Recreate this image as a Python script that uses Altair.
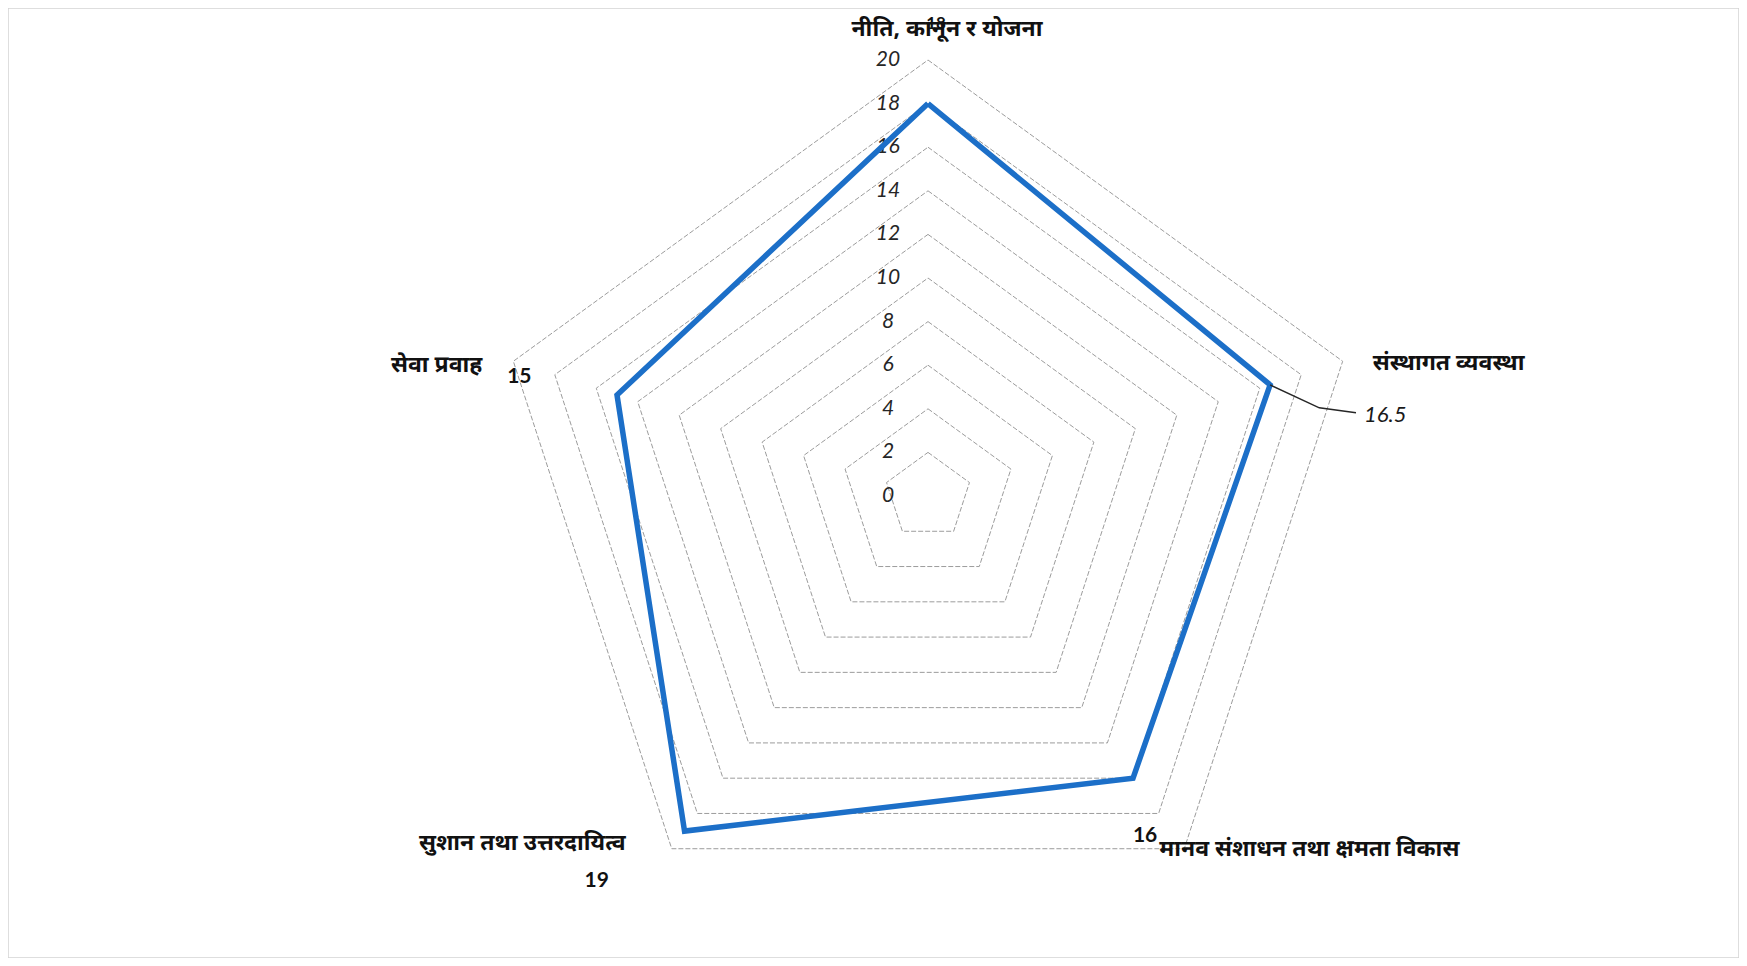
import math
import altair as alt
import pandas as pd

# ---------------- data ----------------
categories = [
    "नीति, कानून र योजना",
    "संस्थागत व्यवस्था",
    "मानव संशाधन तथा क्षमता विकास",
    "सुशान तथा उत्तरदायित्व",
    "सेवा प्रवाह",
]
values = [18, 16.5, 16, 19, 15]
value_labels = ["18", "16.5", "16", "19", "15"]
ticks = [0, 2, 4, 6, 8, 10, 12, 14, 16, 18, 20]
tick_labels = [str(t) for t in ticks]

# ---------------- layout ----------------
N = len(categories)
W, H = 1731, 950          # plot area (whole chart)
CX, CY = 928, 496         # page position of the centre
K = 21.8                  # pixels per unit
RMAX = max(ticks)
xdom = [(8 - CX) / K, (8 + W - CX) / K]
ydom = [(CY - 8 - H) / K, (CY - 8) / K]

X = alt.X("x:Q", scale=alt.Scale(domain=xdom, nice=False, zero=False), axis=None)
Y = alt.Y("y:Q", scale=alt.Scale(domain=ydom, nice=False, zero=False), axis=None)

polar = dict(ang=f"(datum.idx % {N}) * 2 * PI / {N}")
xy = dict(x="datum.r * sin(datum.ang)", y="datum.r * cos(datum.ang)")

# grid pentagons
grid_df = pd.DataFrame(
    [{"level": t, "idx": i, "r": t} for t in ticks[1:] for i in range(N + 1)]
)
grid = (
    alt.Chart(grid_df)
    .transform_calculate(**polar)
    .transform_calculate(**xy)
    .mark_line(stroke="#9c9c9c", strokeWidth=1, strokeDash=[5, 2])
    .encode(x=X, y=Y, detail="level:N", order="idx:Q")
)

# tick labels along the top axis
tick_df = pd.DataFrame({"r": ticks, "label": tick_labels})
tick_text = (
    alt.Chart(tick_df)
    .transform_calculate(x="0", y="datum.r")
    .mark_text(font="Lato", fontStyle="italic", fontSize=21, color="#262626",
               align="center", baseline="middle", dx=-40)
    .encode(x=X, y=Y, text="label:N")
)

# series
ser_df = pd.DataFrame({"idx": list(range(N + 1)), "r": [values[i % N] for i in range(N + 1)]})
series = (
    alt.Chart(ser_df)
    .transform_calculate(**polar)
    .transform_calculate(**xy)
    .mark_line(stroke="#1c6fc8", strokeWidth=5.5, strokeJoin="miter")
    .encode(x=X, y=Y, order="idx:Q")
)

# labels anchored at the outer ring vertex
lab_df = pd.DataFrame({
    "idx": list(range(N)),
    "cat": categories,
    "val": value_labels,
    "r": [RMAX] * N,
})
lab_base = (
    alt.Chart(lab_df)
    .transform_calculate(**polar)
    .transform_calculate(**xy)
)

cat_style = [
    dict(align="center", dx=19, dy=-31),
    dict(align="left", dx=30, dy=2),
    dict(align="left", dx=-25, dy=0),
    dict(align="right", dx=-46, dy=-6),
    dict(align="right", dx=-31, dy=4),
]
val_style = [
    dict(align="center", dx=8, dy=-36, fontSize=17),
    None,
    dict(align="right", dx=-27, dy=-13, fontSize=21),
    dict(align="center", dx=-75, dy=32, fontSize=21),
    dict(align="center", dx=6, dy=16, fontSize=21),
]

layers = [grid, tick_text, series]
for i in range(N):
    layers.append(
        lab_base.transform_filter(f"datum.idx == {i}")
        .mark_text(font="Noto Sans", fontWeight="bold", fontSize=23, color="#111111",
                   baseline="middle", **cat_style[i])
        .encode(x=X, y=Y, text="cat:N")
    )
    if val_style[i] is not None:
        layers.append(
            lab_base.transform_filter(f"datum.idx == {i}")
            .mark_text(font="Lato", fontWeight="bold", color="#111111",
                       baseline="middle", **val_style[i])
            .encode(x=X, y=Y, text="val:N")
        )

# leader line for the 16.5 label
lead_df = pd.DataFrame({
    "step": [0, 1, 2],
    "r": [values[1], 18.4, 20.0],
    "deg": [72, 77.3, 79],
})
leader = (
    alt.Chart(lead_df)
    .transform_calculate(ang="datum.deg * PI / 180")
    .transform_calculate(**xy)
    .mark_line(stroke="#262626", strokeWidth=1.5)
    .encode(x=X, y=Y, order="step:Q")
)
lead_lab_df = pd.DataFrame({"r": [20.0], "deg": [79], "val": [value_labels[1]]})
lead_text = (
    alt.Chart(lead_lab_df)
    .transform_calculate(ang="datum.deg * PI / 180")
    .transform_calculate(**xy)
    .mark_text(font="Lato", fontStyle="italic", fontSize=22, color="#1a1a1a",
               align="left", baseline="middle", dx=8, dy=2)
    .encode(x=X, y=Y, text="val:N")
)
layers += [leader, lead_text]

chart = (
    alt.layer(*layers)
    .properties(width=W, height=H, padding=0, autosize="none", background="white")
    .configure_view(stroke="#d4d4d4", strokeWidth=1.5)
)

chart.save("out.html", embed_options={"renderer": "svg", "actions": False})
